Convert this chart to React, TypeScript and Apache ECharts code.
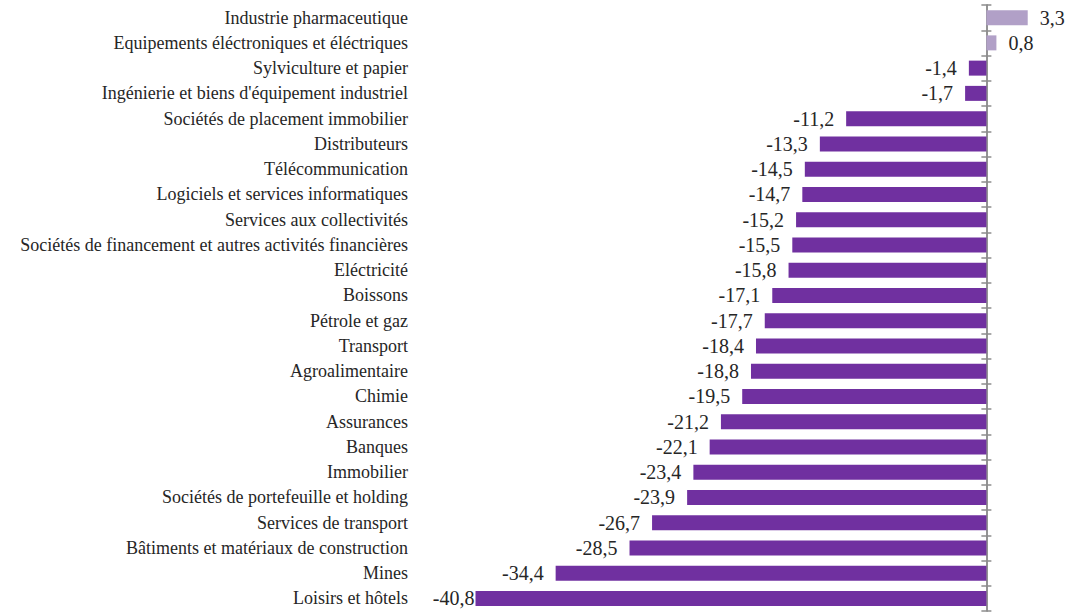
import React, { useEffect, useRef } from "react";
import * as echarts from "echarts";

const categories = [
  "Industrie pharmaceutique",
  "Equipements éléctroniques et éléctriques",
  "Sylviculture et papier",
  "Ingénierie et biens d'équipement industriel",
  "Sociétés de placement immobilier",
  "Distributeurs",
  "Télécommunication",
  "Logiciels et services informatiques",
  "Services aux collectivités",
  "Sociétés de financement et autres activités financières",
  "Eléctricité",
  "Boissons",
  "Pétrole et gaz",
  "Transport",
  "Agroalimentaire",
  "Chimie",
  "Assurances",
  "Banques",
  "Immobilier",
  "Sociétés de portefeuille et holding",
  "Services de transport",
  "Bâtiments et matériaux de construction",
  "Mines",
  "Loisirs et hôtels",
];

const values = [
  3.3, 0.8, -1.4, -1.7, -11.2, -13.3, -14.5, -14.7, -15.2, -15.5, -15.8, -17.1,
  -17.7, -18.4, -18.8, -19.5, -21.2, -22.1, -23.4, -23.9, -26.7, -28.5, -34.4,
  -40.8,
];

const POS_COLOR = "#B1A0C7";
const NEG_COLOR = "#7030A0";
const AXIS_COLOR = "#8C8C8C";
const FONT = "Liberation Serif";

export default function App() {
  const ref = useRef<HTMLDivElement>(null);
  useEffect(() => {
    if (!ref.current) return;
    const chart = echarts.init(ref.current, undefined, { renderer: "svg" });
    const minVal = Math.min(...values);
    const data = values.map((v) => ({
      value: v,
      itemStyle: { color: v >= 0 ? POS_COLOR : NEG_COLOR },
      label: {
        position: v >= 0 ? "right" : "left",
        distance: v === minVal ? 1 : 12,
      },
    }));
    const catAxisBase = {
      type: "category",
      data: categories,
      inverse: true,
      splitLine: { show: false },
    };
    chart.setOption({
      animation: false,
      grid: { left: 473, right: 24, top: 5, bottom: 4 },
      xAxis: {
        type: "value",
        min: -41,
        max: 5,
        show: false,
      },
      yAxis: [
        {
          ...catAxisBase,
          axisLine: { show: false, onZero: false },
          axisTick: { show: false },
          axisLabel: {
            margin: 65,
            fontFamily: FONT,
            fontSize: 18,
            color: "#262626",
          },
        },
        {
          ...catAxisBase,
          position: "left",
          axisLine: { show: true, onZero: true, onZeroAxisIndex: 0, lineStyle: { color: AXIS_COLOR, width: 1.5 } },
          axisTick: { show: true, length: 5, inside: false, lineStyle: { color: AXIS_COLOR, width: 1.5 } },
          axisLabel: { show: false },
        },
        {
          ...catAxisBase,
          position: "left",
          axisLine: { show: true, onZero: true, onZeroAxisIndex: 0, lineStyle: { color: AXIS_COLOR, width: 1.5 } },
          axisTick: { show: true, length: 5, inside: true, lineStyle: { color: AXIS_COLOR, width: 1.5 } },
          axisLabel: { show: false },
        },
      ],
      series: [
        {
          type: "bar",
          yAxisIndex: 0,
          data,
          barWidth: 15,
          label: {
            show: true,
            fontFamily: FONT,
            fontSize: 20,
            color: "#262626",
            formatter: (p: any) => String(p.value).replace(".", ","),
          },
        },
      ],
    });
    return () => chart.dispose();
  }, []);
  return (
    <div
      ref={ref}
      style={{ position: "absolute", left: 0, top: 0, width: 1073, height: 615 }}
    />
  );
}
